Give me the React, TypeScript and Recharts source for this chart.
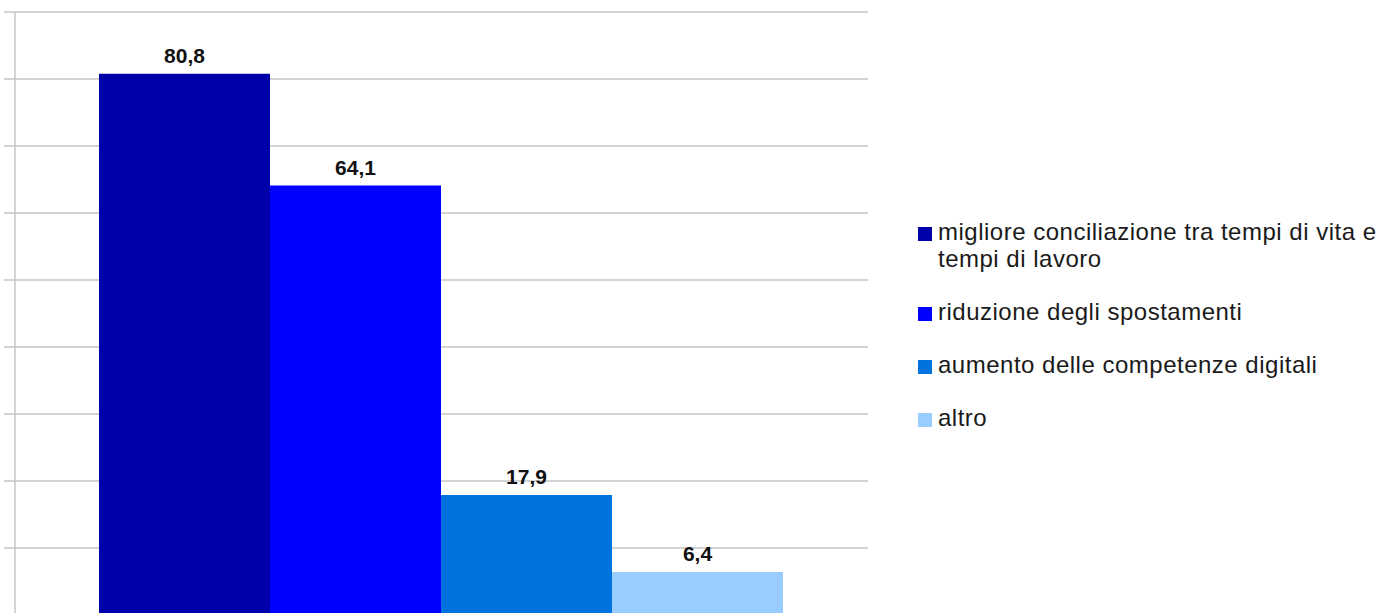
import React from 'react';
import { BarChart, Bar, XAxis, YAxis, CartesianGrid, LabelList } from 'recharts';

const categories = ['Vantaggi'];
const seriesNames = [
  'migliore conciliazione tra tempi di vita e tempi di lavoro',
  'riduzione degli spostamenti',
  'aumento delle competenze digitali',
  'altro',
];
const seriesValues = [80.8, 64.1, 17.9, 6.4];
const seriesColors = ['#0000A8', '#0000FF', '#0073DE', '#99CCFF'];
const yTicks = [0, 10, 20, 30, 40, 50, 60, 70, 80, 90];

const data = categories.map((c) => {
  const row: Record<string, string | number> = { name: c };
  seriesValues.forEach((v, i) => {
    row['s' + i] = v;
  });
  return row;
});

const FONT = '"Liberation Sans", Arial, sans-serif';

const LegendBox = () => (
  <div
    style={{
      position: 'absolute',
      left: 918,
      top: 219,
      width: 477,
      fontFamily: FONT,
      fontSize: 24,
      lineHeight: '26.5px',
      letterSpacing: '0.5px',
      color: '#1a1a1a',
    }}
  >
    {seriesNames.map((n, i) => (
      <div key={n} style={{ display: 'flex', alignItems: 'flex-start', marginBottom: 26.5 }}>
        <div
          style={{
            width: 14,
            height: 14,
            background: seriesColors[i],
            marginTop: 8,
            marginRight: 6,
            flex: '0 0 auto',
          }}
        />
        <div style={{ width: 455 }}>{n}</div>
      </div>
    ))}
  </div>
);

export default function App() {
  return (
    <div style={{ position: 'absolute', left: 0, top: 0, width: 1395, height: 613, overflow: 'hidden', background: '#fff' }}>
      <BarChart
        width={1395}
        height={640}
        data={data}
        margin={{ top: 12, right: 527, bottom: 25, left: 0 }}
        barCategoryGap={84}
        barGap={0}
      >
        <CartesianGrid vertical={false} stroke="#c4c4c4" strokeWidth={1.5} />
        <XAxis dataKey="name" hide />
        <YAxis
          domain={[0, 90]}
          ticks={yTicks}
          width={15}
          tickSize={11}
          tickLine={{ stroke: '#c4c4c4', strokeWidth: 1.5 }}
          axisLine={{ stroke: '#c4c4c4', strokeWidth: 1.5 }}
          tickFormatter={() => ''}
          interval={0}
        />
        <YAxis
          yAxisId="r"
          orientation="right"
          domain={[0, 90]}
          width={0}
          tick={false}
          tickLine={false}
          axisLine={{ stroke: '#c4c4c4', strokeWidth: 1.5 }}
        />
        {seriesNames.map((n, i) => (
          <Bar key={n} dataKey={'s' + i} name={n} fill={seriesColors[i]} isAnimationActive={false}>
            <LabelList
              dataKey={'s' + i}
              position="top"
              offset={11}
              formatter={(v: number) => String(v).replace('.', ',')}
              style={{ fontFamily: FONT, fontSize: 21, fontWeight: 'bold', fill: '#111' }}
            />
          </Bar>
        ))}
      </BarChart>
      <LegendBox />
    </div>
  );
}
